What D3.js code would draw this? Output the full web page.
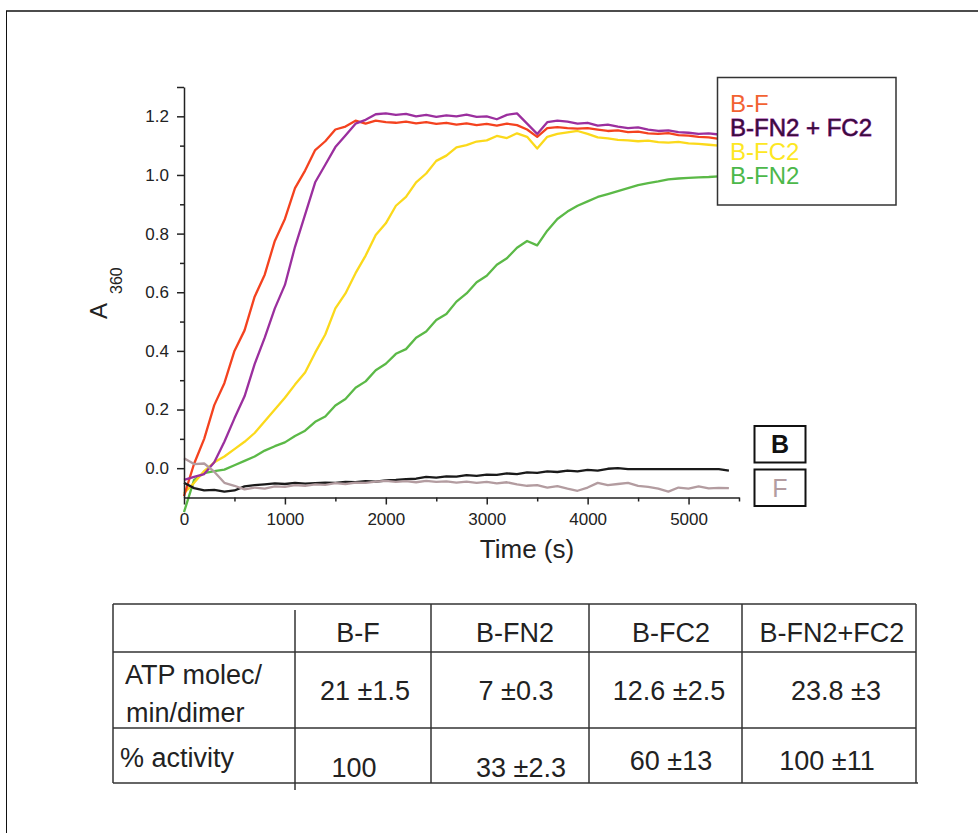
<!doctype html>
<html lang="en">
<head>
    <meta charset="utf-8">
    <title>ATPase activity</title>
    <script src="https://d3js.org/d3.v7.min.js"></script>
    <style>
        body { margin: 0; background: #fff; }
        text { font-family: "Liberation Sans", Arial, sans-serif; }
    </style>
</head>
<body>
<script>
    // time points (s)
    var times = [0, 100, 200, 300, 400, 500, 600, 700, 800, 900,
        1000, 1100, 1200, 1300, 1400, 1500, 1600, 1700, 1800, 1900,
        2000, 2100, 2200, 2300, 2400, 2500, 2600, 2700, 2800, 2900,
        3000, 3100, 3200, 3300, 3400, 3500, 3600, 3700, 3800, 3900,
        4000, 4100, 4200, 4300, 4400, 4500, 4600, 4700, 4800, 4900,
        5000, 5100, 5200, 5300, 5400];

    // A360
    var bF = [-0.095, 0.015, 0.1, 0.215, 0.29, 0.4, 0.47, 0.585, 0.66, 0.775,
        0.85, 0.955, 1.015, 1.085, 1.115, 1.155, 1.165, 1.185, 1.175, 1.185,
        1.18, 1.178, 1.182, 1.176, 1.18, 1.174, 1.178, 1.172, 1.176, 1.17,
        1.174, 1.168, 1.175, 1.17, 1.155, 1.13, 1.16, 1.163, 1.16, 1.158,
        1.16, 1.155, 1.15, 1.152, 1.146, 1.148, 1.142, 1.14, 1.143, 1.136,
        1.134, 1.13, 1.128, 1.123, 1.12];
    var bFN2FC2 = [-0.04, -0.03, -0.02, 0.02, 0.09, 0.17, 0.245, 0.355, 0.445, 0.545,
        0.625, 0.755, 0.865, 0.975, 1.035, 1.095, 1.135, 1.175, 1.188, 1.207,
        1.21, 1.205, 1.208, 1.2, 1.205, 1.198, 1.203, 1.2, 1.206, 1.198,
        1.2, 1.19, 1.205, 1.21, 1.175, 1.14, 1.18, 1.185, 1.182, 1.175,
        1.178, 1.168, 1.172, 1.165, 1.16, 1.162, 1.155, 1.15, 1.152, 1.146,
        1.144, 1.14, 1.142, 1.138, 1.138];
    var bFC2 = [-0.085, -0.05, -0.01, 0.02, 0.04, 0.065, 0.09, 0.12, 0.16, 0.2,
        0.24, 0.285, 0.326, 0.394, 0.456, 0.545, 0.596, 0.665, 0.725, 0.795,
        0.835, 0.895, 0.925, 0.975, 1.005, 1.048, 1.066, 1.094, 1.102, 1.114,
        1.118, 1.133, 1.126, 1.142, 1.13, 1.09, 1.13, 1.14, 1.145, 1.15,
        1.14, 1.128, 1.125, 1.12, 1.118, 1.115, 1.117, 1.112, 1.11, 1.113,
        1.108, 1.106, 1.103, 1.1, 1.095];
    var bFN2 = [-0.15, -0.04, -0.017, -0.01, -0.005, 0.01, 0.025, 0.04, 0.06, 0.075,
        0.088, 0.11, 0.128, 0.158, 0.176, 0.214, 0.236, 0.274, 0.296, 0.334,
        0.356, 0.39, 0.406, 0.445, 0.466, 0.505, 0.526, 0.568, 0.596, 0.634,
        0.656, 0.694, 0.716, 0.752, 0.775, 0.76, 0.81, 0.85, 0.875, 0.895,
        0.91, 0.925, 0.935, 0.945, 0.955, 0.965, 0.972, 0.978, 0.985, 0.988,
        0.99, 0.992, 0.993, 0.995, 0.995];
    var bOnly = [-0.05, -0.068, -0.076, -0.074, -0.08, -0.076, -0.062, -0.058, -0.055, -0.052,
        -0.054, -0.05, -0.053, -0.051, -0.049, -0.05, -0.047, -0.048, -0.044, -0.046,
        -0.042, -0.04, -0.037, -0.036, -0.03, -0.032, -0.028, -0.029, -0.024, -0.026,
        -0.022, -0.023, -0.018, -0.02, -0.014, -0.016, -0.011, -0.013, -0.008, -0.011,
        -0.006, -0.008, -0.002, 0.0, -0.003, -0.003, -0.003, -0.003, -0.003, -0.003,
        -0.003, -0.003, -0.003, -0.003, -0.008];
    var fOnly = [0.034, 0.014, 0.016, -0.012, -0.05, -0.06, -0.072, -0.066, -0.07, -0.062,
        -0.064, -0.058, -0.06, -0.055, -0.057, -0.051, -0.054, -0.049, -0.05, -0.046,
        -0.043, -0.047, -0.044, -0.048, -0.043, -0.047, -0.045, -0.049, -0.046, -0.05,
        -0.047, -0.052, -0.048, -0.055, -0.06, -0.058, -0.066, -0.061, -0.07, -0.077,
        -0.066, -0.05, -0.058, -0.054, -0.05, -0.06, -0.064, -0.07, -0.08, -0.066,
        -0.07, -0.062, -0.069, -0.067, -0.068];

    var xTicks = [0, 1000, 2000, 3000, 4000, 5000];
    var xMinor = [500, 1500, 2500, 3500, 4500, 5500];
    var yTicks = [0.0, 0.2, 0.4, 0.6, 0.8, 1.0, 1.2];
    var yMinor = [0.1, 0.3, 0.5, 0.7, 0.9, 1.1, 1.3];

    // table
    var colNames = ["B-F", "B-FN2", "B-FC2", "B-FN2+FC2"];
    var atpRate = ["21 ±1.5", "7 ±0.3", "12.6 ±2.5", "23.8 ±3"];
    var activity = ["100", "33 ±2.3", "60 ±13", "100 ±11"];

    var width = 978, height = 833;
    var svg = d3.select("body").append("svg")
        .attr("width", width)
        .attr("height", height);

    // page frame
    svg.append("line").attr("x1", 6).attr("x2", 978).attr("y1", 11).attr("y2", 11)
        .attr("stroke", "#111").attr("stroke-width", 1.5);
    svg.append("line").attr("x1", 6.5).attr("x2", 6.5).attr("y1", 11).attr("y2", 833)
        .attr("stroke", "#111").attr("stroke-width", 1);

    var x = d3.scaleLinear().domain([0, 5500]).range([184, 739]);
    var y = d3.scaleLinear().domain([-0.1, 1.3]).range([497.5, 87]);
    var ink = "#222";

    var series = [
        {name: "B-FN2", values: bFN2, color: "#5bb947"},
        {name: "B-FC2", values: bFC2, color: "#fbd91b"},
        {name: "B-F", values: bF, color: "#f4421f"},
        {name: "B-FN2 + FC2", values: bFN2FC2, color: "#9b2f9e"},
        {name: "B", values: bOnly, color: "#1a1a1a"},
        {name: "F", values: fOnly, color: "#b39ca0"}
    ];

    var line = d3.line()
        .x(function(d, i) { return x(times[i]); })
        .y(function(d) { return y(d); });

    svg.append("g").selectAll("path")
        .data(series)
        .enter().append("path")
        .attr("d", function(s) { return line(s.values); })
        .attr("fill", "none")
        .attr("stroke", function(s) { return s.color; })
        .attr("stroke-width", 2.3)
        .attr("stroke-linejoin", "round");

    // axes
    var xAxis = svg.append("g")
        .attr("transform", "translate(0," + y.range()[0] + ")")
        .call(d3.axisBottom(x).tickValues(xTicks).tickSize(7).tickSizeOuter(0).tickPadding(8)
            .tickFormat(d3.format("d")));
    var xMin = svg.append("g")
        .attr("transform", "translate(0," + y.range()[0] + ")")
        .call(d3.axisBottom(x).tickValues(xMinor).tickSize(4).tickSizeOuter(0).tickFormat(""));
    xMin.select(".domain").remove();

    var yAxis = svg.append("g")
        .attr("transform", "translate(" + x.range()[0] + ",0)")
        .call(d3.axisLeft(y).tickValues(yTicks).tickSize(7).tickSizeOuter(0).tickPadding(8)
            .tickFormat(d3.format(".1f")));
    var yMin = svg.append("g")
        .attr("transform", "translate(" + x.range()[0] + ",0)")
        .call(d3.axisLeft(y).tickValues(yMinor).tickSize(4).tickSizeOuter(0).tickFormat(""));
    yMin.select(".domain").remove();
    yMin.selectAll(".tick line").filter(function(d) { return d === 1.3; }).attr("x2", -7);

    [xAxis, xMin, yAxis, yMin].forEach(function(g) {
        g.selectAll("path, line").attr("stroke", ink).attr("stroke-width", 1.5);
        g.selectAll("text").attr("fill", ink).attr("font-size", 17)
            .attr("font-family", "'Liberation Sans', Arial, sans-serif");
    });

    svg.append("text")
        .attr("x", 527).attr("y", 558)
        .attr("text-anchor", "middle")
        .attr("font-size", 26).attr("fill", ink)
        .text("Time (s)");

    var yLab = svg.append("text")
        .attr("transform", "translate(107,319) rotate(-90)")
        .attr("fill", ink);
    yLab.append("tspan").attr("font-size", 24).text("A");
    yLab.append("tspan").attr("font-size", 16).attr("dx", 9).attr("dy", 15).text("360");

    // legend
    svg.append("rect")
        .attr("x", 717.5).attr("y", 77.5).attr("width", 178.5).attr("height", 127.5)
        .attr("fill", "#fff").attr("stroke", "#333").attr("stroke-width", 1.5);

    var legendItems = [
        {label: "B-F", fill: "#f26232", stroke: "none"},
        {label: "B-FN2 + FC2", fill: "#3b0b3f", stroke: "#9b2f9e"},
        {label: "B-FC2", fill: "#fde723", stroke: "none"},
        {label: "B-FN2", fill: "#4cb84a", stroke: "none"}
    ];
    svg.append("g").selectAll("text")
        .data(legendItems)
        .enter().append("text")
        .attr("x", 730)
        .attr("y", function(d, i) { return 111.5 + i * 24.3; })
        .attr("font-size", 24)
        .attr("fill", function(d) { return d.fill; })
        .attr("stroke", function(d) { return d.stroke; })
        .attr("stroke-width", 0.8)
        .attr("paint-order", "stroke")
        .text(function(d) { return d.label; });

    // B and F labels
    var boxes = [
        {label: "B", top: 426, color: "#111", weight: "bold"},
        {label: "F", top: 469.5, color: "#b39ca0", weight: "normal"}
    ];
    boxes.forEach(function(b) {
        svg.append("rect")
            .attr("x", 754.5).attr("y", b.top).attr("width", 51).attr("height", 36.5)
            .attr("fill", "#fff").attr("stroke", "#111").attr("stroke-width", 2);
        svg.append("text")
            .attr("x", 780).attr("y", b.top + 27)
            .attr("text-anchor", "middle")
            .attr("font-size", 25).attr("font-weight", b.weight)
            .attr("fill", b.color)
            .text(b.label);
    });

    // activity table
    var colX = [113, 295, 431, 589, 742, 916];
    var rowY = [604, 652, 728, 783];
    var tbl = svg.append("g").attr("stroke", "#333").attr("stroke-width", 1.5);
    rowY.forEach(function(ry, i) {
        tbl.append("line").attr("x1", 113).attr("x2", i === 3 ? 918 : 916)
            .attr("y1", ry).attr("y2", ry);
    });
    colX.forEach(function(cx, i) {
        tbl.append("line").attr("x1", cx).attr("x2", cx)
            .attr("y1", i === 1 ? 610 : 604).attr("y2", i === 1 ? 790 : 783);
    });

    var colCenter = [358, 515, 671, 832];
    var cellText = svg.append("g").attr("fill", ink).attr("font-size", 27)
        .attr("text-anchor", "middle");
    colNames.forEach(function(c, i) {
        cellText.append("text").attr("x", colCenter[i]).attr("y", 642).text(c);
    });
    var atpX = [365, 516, 669, 836];
    atpRate.forEach(function(c, i) {
        cellText.append("text").attr("x", atpX[i]).attr("y", 700).text(c);
    });
    var actX = [354, 521, 671, 827];
    var actY = [777, 777, 770, 770];
    activity.forEach(function(c, i) {
        cellText.append("text").attr("x", actX[i]).attr("y", actY[i]).text(c);
    });

    var rowLab = svg.append("g").attr("fill", ink).attr("font-size", 27);
    rowLab.append("text").attr("x", 125).attr("y", 684).text("ATP molec/");
    rowLab.append("text").attr("x", 126).attr("y", 722).text("min/dimer");
    rowLab.append("text").attr("x", 120).attr("y", 767).text("% activity");
</script>
</body>
</html>
